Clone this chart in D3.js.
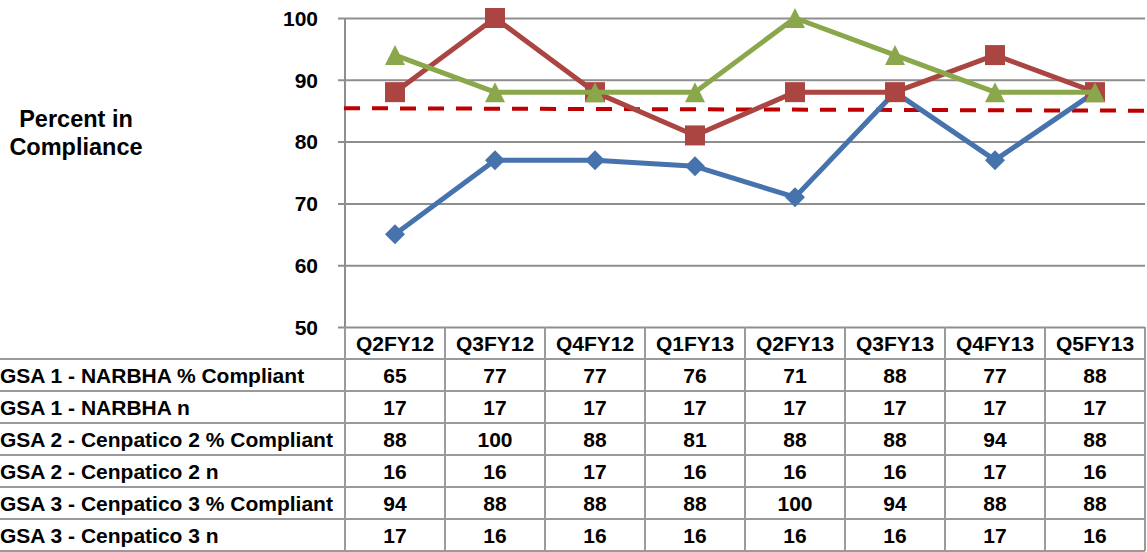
<!DOCTYPE html>
<html><head><meta charset="utf-8">
<script src="https://cdn.jsdelivr.net/npm/d3@7/dist/d3.min.js"></script>
<style>body{margin:0;background:#fff;}svg{display:block;font-family:"Liberation Sans",Arial,sans-serif;font-weight:bold;}</style>
</head><body>
<svg id="c" width="1147" height="552"></svg>
<script>
const categories = ["Q2FY12","Q3FY12","Q4FY12","Q1FY13","Q2FY13","Q3FY13","Q4FY13","Q5FY13"];
const narbhaPct = [65,77,77,76,71,88,77,88];
const narbhaN = [17,17,17,17,17,17,17,17];
const cen2Pct = [88,100,88,81,88,88,94,88];
const cen2N = [16,16,17,16,16,16,17,16];
const cen3Pct = [94,88,88,88,100,94,88,88];
const cen3N = [17,16,16,16,16,16,17,16];
const rowLabels = ["GSA 1 - NARBHA % Compliant","GSA 1 - NARBHA n","GSA 2 - Cenpatico 2 % Compliant","GSA 2 - Cenpatico 2 n","GSA 3 - Cenpatico 3 % Compliant","GSA 3 - Cenpatico 3 n"];
const yTicks = [50,60,70,80,90,100];
const targetLine = [85.4, 85.0]; // start, end
const axisTitle = ["Percent in","Compliance"];

const svg = d3.select("#c");
const L = 345, R = 1145, T = 18, B = 327, rowH = 32;
const x = d3.scaleBand().domain(categories).range([L, R]);
const y = d3.scaleLinear().domain([50,100]).range([B, T]);
const grid = "#8e8e8e";

// gridlines + ticks
const yAxis = d3.axisLeft(y).tickValues(yTicks).tickSize(-(R - L)).tickPadding(20).tickSizeOuter(0);
const ga = svg.append("g").attr("transform", `translate(${L},0)`).call(yAxis);
ga.select(".domain").remove();
ga.selectAll(".tick line").attr("stroke", grid).attr("stroke-width", 2).attr("x1", -7);
ga.selectAll(".tick text").attr("font-size", 21).attr("font-weight","bold").attr("fill","#000")
  .attr("font-family","Liberation Sans, Arial, sans-serif").attr("x", -27).attr("dy","0.35em");
svg.append("line").attr("x1", L).attr("x2", L).attr("y1", T).attr("y2", B).attr("stroke", grid).attr("stroke-width", 2);

// axis title
svg.append("text").attr("x", 76).attr("y", 127).attr("text-anchor","middle").attr("font-size", 23.5).text(axisTitle[0]);
svg.append("text").attr("x", 76).attr("y", 155).attr("text-anchor","middle").attr("font-size", 23.5).text(axisTitle[1]);

// target dashed line
svg.append("line").attr("x1", L - 1).attr("x2", R + 1)
  .attr("y1", y(targetLine[0])).attr("y2", y(targetLine[1]))
  .attr("stroke", "#c00000").attr("stroke-width", 4).attr("stroke-dasharray", "16,12");

// series
const diamond = "M0,-10L10,0L0,10L-10,0Z";
const square = "M-10,-10H10V10H-10Z";
const triangle = "M0,-10L10,10H-10Z";
const series = [
  {vals: narbhaPct, color: "#4673ad", shape: diamond},
  {vals: cen2Pct, color: "#aa4542", shape: square},
  {vals: cen3Pct, color: "#8ba74b", shape: triangle}
];
const cx = c => x(c) + x.bandwidth() / 2;
const line = d3.line().x((d, i) => cx(categories[i])).y(d => y(d));
series.forEach(s => {
  const g = svg.append("g");
  g.append("path").attr("d", line(s.vals)).attr("fill","none").attr("stroke", s.color).attr("stroke-width", 5).attr("stroke-linejoin","round");
  g.selectAll("path.m").data(s.vals).join("path").attr("class","m")
    .attr("d", s.shape)
    .attr("transform", (d, i) => `translate(${cx(categories[i])},${y(d)})`)
    .attr("fill", s.color);
});

// table
const rows = [narbhaPct, narbhaN, cen2Pct, cen2N, cen3Pct, cen3N];
const tg = svg.append("g");
const tcol = "#9a9a9a";
for (let r = 1; r <= rows.length + 1; r++) {
  tg.append("line").attr("x1", 0).attr("x2", R).attr("y1", B + r * rowH).attr("y2", B + r * rowH).attr("stroke", tcol).attr("stroke-width", 2);
}
categories.forEach(c => {
  tg.append("line").attr("x1", x(c)).attr("x2", x(c)).attr("y1", B).attr("y2", B + 7 * rowH).attr("stroke", tcol).attr("stroke-width", 2);
});
tg.append("line").attr("x1", R).attr("x2", R).attr("y1", B).attr("y2", B + 7 * rowH).attr("stroke", tcol).attr("stroke-width", 2);

tg.selectAll("text.h").data(categories).join("text").attr("class","h")
  .attr("x", c => cx(c)).attr("y", B + rowH / 2).attr("dy","0.36em").attr("text-anchor","middle").attr("font-size", 21).text(c => c);
rows.forEach((vals, r) => {
  const yy = B + (r + 1) * rowH + rowH / 2;
  tg.append("text").attr("x", 0).attr("y", yy).attr("dy","0.36em").attr("font-size", 21).text(rowLabels[r]);
  tg.selectAll(null).data(vals).join("text")
    .attr("x", (d, i) => cx(categories[i])).attr("y", yy).attr("dy","0.36em").attr("text-anchor","middle").attr("font-size", 21).text(d => d);
});
</script>
</body></html>
